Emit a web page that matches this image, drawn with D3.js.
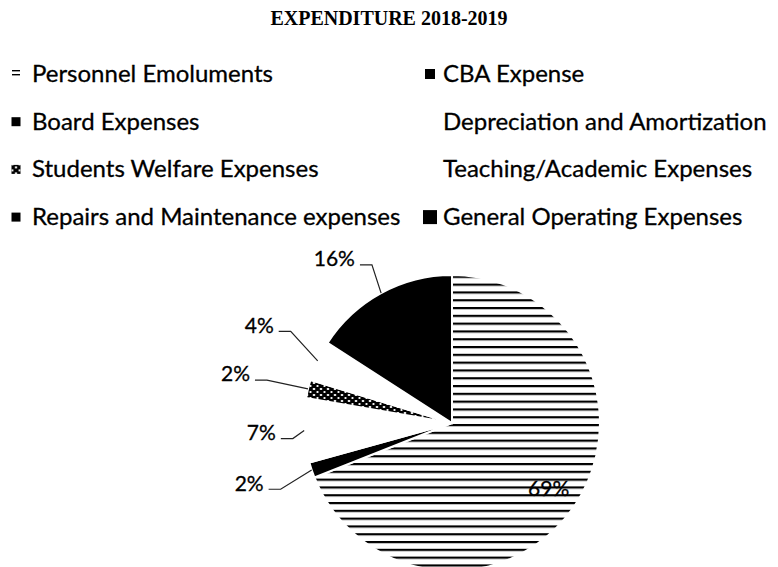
<!DOCTYPE html>
<html>
<head>
<meta charset="utf-8">
<title>Expenditure 2018-2019</title>
<script src="https://cdn.jsdelivr.net/npm/d3@7"></script>
<style>
  body { margin: 0; background: #fff; }
  text { font-family: Lato, "Open Sans", sans-serif; fill: #000; stroke: #000; stroke-width: 0.3px; }
</style>
</head>
<body>
<script>
// Data (percent of total expenditure)
const title = "EXPENDITURE 2018-2019";
const categories = [
  "Personnel Emoluments", "CBA Expense",
  "Board Expenses", "Depreciation and Amortization",
  "Students Welfare Expenses", "Teaching/Academic Expenses",
  "Repairs and Maintenance expenses", "General Operating Expenses"
];
const shares = [69.0, 1.7, 7.0, 2.0, 4.4, 0, 0, 15.9];

// looks, as in the black & white print
const sliceFill = ["url(#hatch)", "#000", "#fff", "url(#weave)", "#fff", "#fff", "#fff", "#000"];
const swatchFill = ["url(#hatchSmall)", "#000", "#000", "none", "url(#weave)", "none", "#000", "#000"];
const swatchSize = [8, 10, 9, 0, 9, 0, 9, 14];
// label placement: [radius factor, angle shift in degrees]
const labelPlace = [[0.79, 0], [1.43, 2], [1.29, 0], [1.5, -0.6], [1.46, 2], null, null, [1.365, -7]];

const w = 778, h = 567;
const cx = 452, cy = 423, r = 148;

const svg = d3.select("body").append("svg")
  .attr("width", w)
  .attr("height", h);

const defs = svg.append("defs");

const hatch = defs.append("pattern")
  .attr("id", "hatch")
  .attr("patternUnits", "userSpaceOnUse")
  .attr("width", 12).attr("height", 7.8)
  .attr("y", 1);
hatch.append("rect").attr("width", 12).attr("height", 7.8).attr("fill", "#fff");
hatch.append("rect").attr("width", 12).attr("height", 2.2).attr("fill", "#000");

const hatchSmall = defs.append("pattern")
  .attr("id", "hatchSmall")
  .attr("patternUnits", "userSpaceOnUse")
  .attr("width", 8).attr("height", 4);
hatchSmall.append("rect").attr("width", 8).attr("height", 4).attr("fill", "#fff");
hatchSmall.append("rect").attr("width", 8).attr("height", 1.4).attr("fill", "#000");

const weave = defs.append("pattern")
  .attr("id", "weave")
  .attr("patternUnits", "userSpaceOnUse")
  .attr("width", 7).attr("height", 6);
weave.append("rect").attr("width", 7).attr("height", 6).attr("fill", "#000");
weave.append("ellipse").attr("cx", 2).attr("cy", 2).attr("rx", 1.4).attr("ry", 1.1).attr("fill", "#fff");
weave.append("ellipse").attr("cx", 5.5).attr("cy", 5).attr("rx", 1.2).attr("ry", 0.9).attr("fill", "#fff");

// Title
svg.append("text")
  .attr("x", 389)
  .attr("y", 25)
  .attr("text-anchor", "middle")
  .style("font-family", "'Liberation Serif', 'Times New Roman', serif")
  .style("font-weight", "bold")
  .style("font-size", "20px")
  .style("stroke", "none")
  .text(title);

// Legend, two columns filled row by row
const colX = [16, 430];
const textX = [32, 443];
const legend = svg.append("g").selectAll("g")
  .data(categories)
  .enter()
  .append("g")
  .attr("transform", (d, i) => `translate(0, ${82 + Math.floor(i / 2) * 47.7})`);

legend.append("rect")
  .attr("x", (d, i) => colX[i % 2] - swatchSize[i] / 2)
  .attr("y", (d, i) => -8 - swatchSize[i] / 2)
  .attr("width", (d, i) => swatchSize[i])
  .attr("height", (d, i) => swatchSize[i])
  .attr("fill", (d, i) => swatchFill[i]);

legend.append("text")
  .attr("x", (d, i) => textX[i % 2])
  .attr("y", 0)
  .style("font-size", "24px")
  .text(d => d);

// Pie
const pie = d3.pie().sort(null).value(d => d);
const arcs = pie(shares);
const arc = d3.arc().innerRadius(0).outerRadius(r);

const g = svg.append("g").attr("transform", `translate(${cx},${cy})`);

g.selectAll("path")
  .data(arcs)
  .enter()
  .append("path")
  .attr("d", arc)
  .attr("fill", (d, i) => sliceFill[i])
  .attr("stroke", "#fff")
  .attr("stroke-width", 2);

// Data labels
const fmt = d3.format(".0f");
function polar(a, rad) {
  return [rad * Math.sin(a), -rad * Math.cos(a)];
}

arcs.forEach(function (d, i) {
  const place = labelPlace[i];
  if (!place || d.data === 0) return;
  const mid = (d.startAngle + d.endAngle) / 2;
  const [lx, ly] = polar(mid + place[1] * Math.PI / 180, r * place[0]);
  const label = g.append("text")
    .attr("x", lx)
    .attr("y", ly)
    .attr("dy", "0.35em")
    .attr("text-anchor", "middle")
    .style("font-size", "21px")
    .text(fmt(d.data) + "%");

  if (place[0] > 1) {
    const half = label.node().getComputedTextLength() / 2;
    const [ex, ey] = polar(mid, r);
    const sx = lx + half + 5, sy = ly + 6;
    g.insert("path", "text")
      .attr("d", d3.line()([[sx, sy], [sx + 12, sy], [ex, ey]]))
      .attr("fill", "none")
      .attr("stroke", "#222")
      .attr("stroke-width", 1.2);
  }
});
</script>
</body>
</html>
